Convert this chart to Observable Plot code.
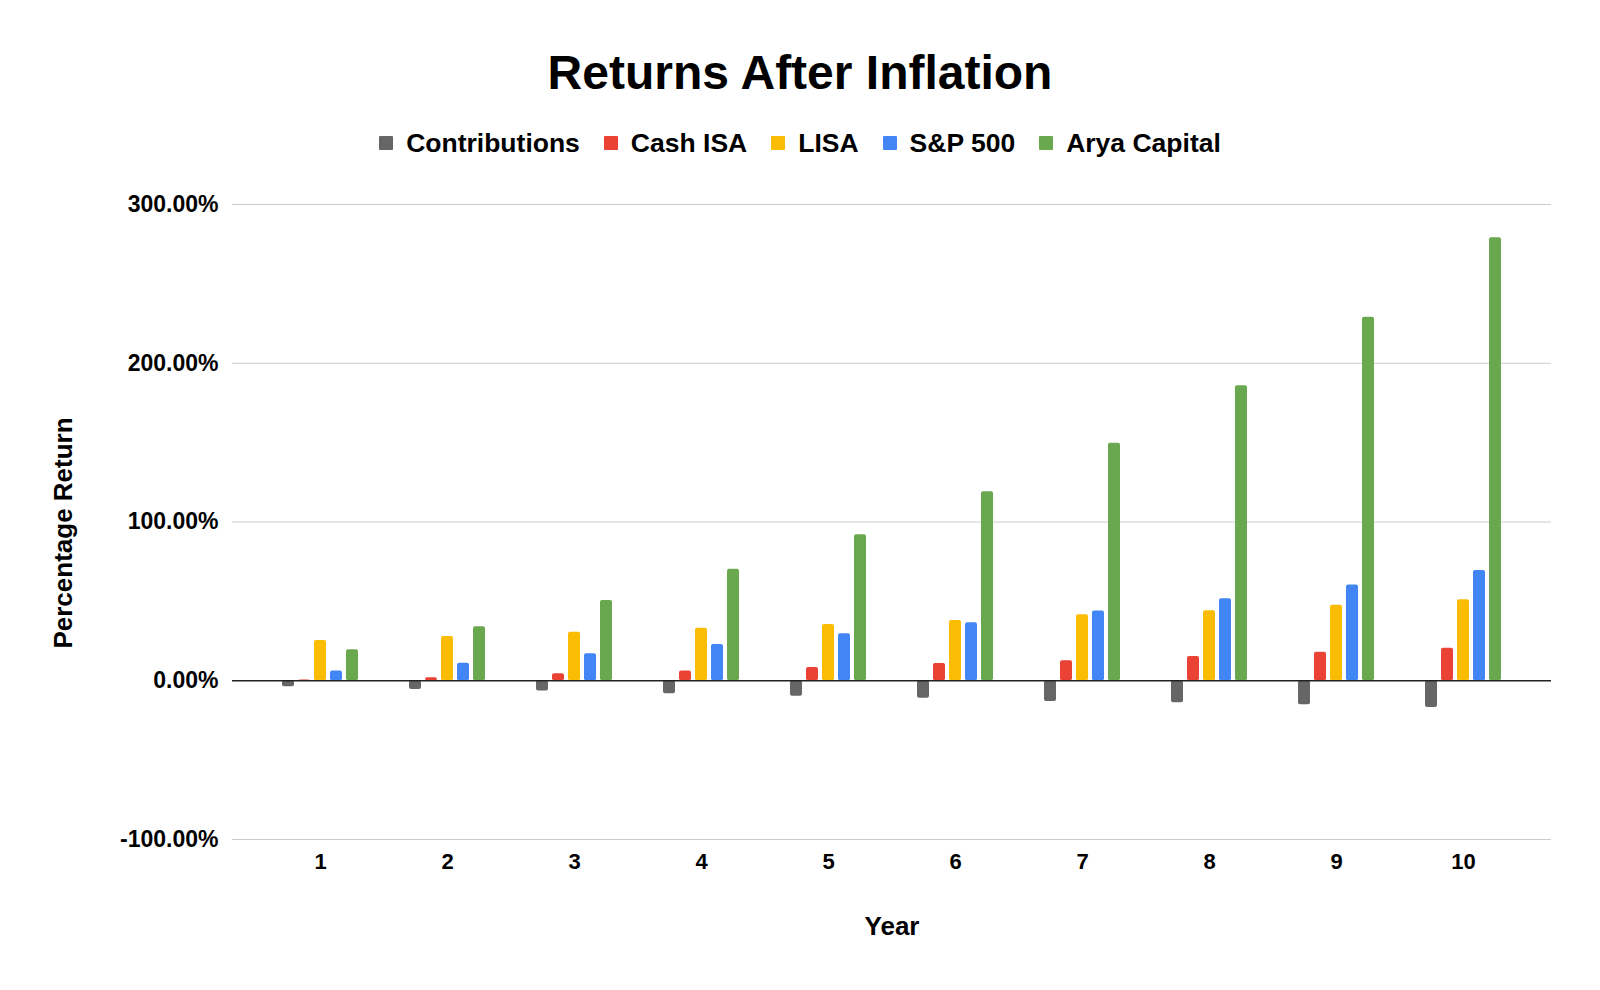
<!DOCTYPE html>
<html>
<head>
<meta charset="utf-8">
<script src="https://cdn.jsdelivr.net/npm/d3@7"></script>
<script src="https://cdn.jsdelivr.net/npm/@observablehq/plot@0.6"></script>
<style>
  html, body { margin: 0; padding: 0; background: #fff; }
  body { width: 1600px; height: 990px; overflow: hidden; font-family: "Liberation Sans", Arial, sans-serif; }
  #header { position: relative; width: 1600px; height: 170px; }
  #title { position: absolute; left: 0; width: 1600px; top: 44px; line-height: 58px; text-align: center; font-size: 48px; font-weight: bold; color: #000; }
  #legend { position: absolute; left: 0; width: 1600px; top: 128px; height: 30px; display: flex; justify-content: center; align-items: center; font-size: 26.5px; font-weight: bold; color: #000; }
  .item { display: flex; align-items: center; margin: 0 12px; }
  .sw { width: 14px; height: 14px; margin-right: 13px; border-radius: 1px; }
</style>
</head>
<body>
<div id="header">
  <div id="title">Returns After Inflation</div>
  <div id="legend"></div>
</div>
<div id="chart"></div>
<script>
const years = [1, 2, 3, 4, 5, 6, 7, 8, 9, 10];
const seriesNames = ["Contributions", "Cash ISA", "LISA", "S&P 500", "Arya Capital"];
const seriesColors = ["#666666", "#ea4335", "#fbbc04", "#4285f4", "#6aa84f"];
const contributions = [-3.8, -5.5, -6.5, -8.2, -9.7, -11.1, -13.0, -13.9, -15.1, -16.8];
const cashISA = [0.4, 1.9, 4.4, 6.1, 8.4, 10.9, 12.6, 15.3, 17.9, 20.4];
const lisa = [25.4, 27.9, 30.5, 33.0, 35.5, 38.0, 41.6, 44.1, 47.5, 51.1];
const sp500 = [6.1, 11.1, 17.0, 22.9, 29.6, 36.6, 43.9, 51.7, 60.3, 69.5];
const aryaCapital = [19.5, 34.0, 50.6, 70.2, 92.0, 119.1, 149.6, 185.9, 229.0, 279.0];
const yTicks = [-100, 0, 100, 200, 300];

const seriesValues = [contributions, cashISA, lisa, sp500, aryaCapital];

// legend
const legend = document.getElementById("legend");
seriesNames.forEach((n, i) => {
  const it = document.createElement("div");
  it.className = "item";
  const sw = document.createElement("div");
  sw.className = "sw";
  sw.style.background = seriesColors[i];
  const t = document.createElement("span");
  t.textContent = n;
  it.appendChild(sw);
  it.appendChild(t);
  legend.appendChild(it);
});

const pitch = 16;
const barMarks = seriesNames.map((name, i) => {
  const rows = years.map((y, j) => ({year: y, value: seriesValues[i][j], series: name}));
  return Plot.barY(rows, {
    x: "year",
    y: "value",
    fill: seriesColors[i],
    dx: (i - 2) * pitch,
    rx: 2
  });
});

const chart = Plot.plot({
  width: 1600,
  height: 820,
  marginTop: 34,
  marginBottom: 151,
  marginLeft: 232,
  marginRight: 49,
  style: {fontFamily: "'Liberation Sans', Arial, sans-serif", fontWeight: "bold", fontSize: "23px", color: "#000", background: "#fff"},
  x: {type: "band", domain: years, paddingInner: 0.902, paddingOuter: 0.6235},
  y: {domain: [-100, 300]},
  marks: [
    Plot.gridY(yTicks.filter(d => d !== 0), {stroke: "#cccccc", strokeOpacity: 1, strokeWidth: 1}),
    ...barMarks,
    Plot.ruleY([0], {stroke: "#222", strokeWidth: 1.5}),
    Plot.axisY(yTicks, {tickSize: 0, tickPadding: 14, tickFormat: d => d.toFixed(2) + "%", label: null, fontSize: 23}),
    Plot.axisX({tickSize: 0, tickPadding: 14, label: null, fontSize: 22}),
    Plot.text(["Year"], {text: d => d, frameAnchor: "bottom", lineAnchor: "middle", textAnchor: "middle", dy: 87, fontSize: 26, fontWeight: "bold", fill: "#000"}),
    Plot.text(["Percentage Return"], {text: d => d, frameAnchor: "left", lineAnchor: "middle", textAnchor: "middle", dx: -169, dy: 11, rotate: -90, fontSize: 26, fontWeight: "bold", fill: "#000"})
  ]
});
document.getElementById("chart").appendChild(chart);
</script>
</body>
</html>
